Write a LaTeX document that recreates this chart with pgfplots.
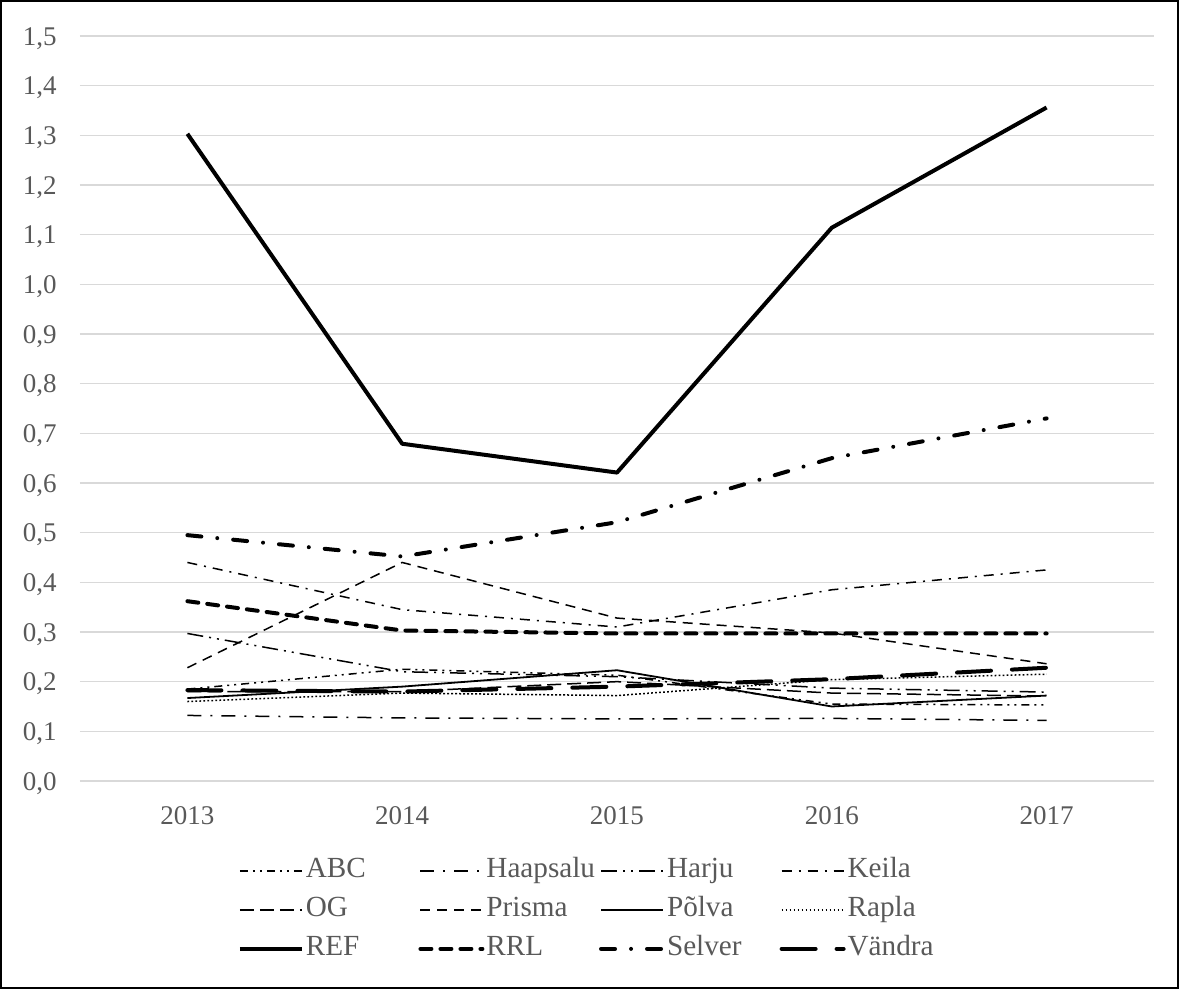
\documentclass[border=0pt]{standalone}
\usepackage{fontspec}
\setmainfont{Liberation Serif}
\usepackage{pgfplots}
\pgfplotsset{compat=1.18}
\definecolor{txtgray}{HTML}{595959}
\definecolor{gridgray}{HTML}{D9D9D9}
\begin{document}
\fontsize{13.5pt}{16pt}\selectfont
\begin{tikzpicture}
\path[use as bounding box] (0,0) rectangle (589.5pt,494.5pt);
\draw[line width=1pt] (0.5pt,0.5pt) rectangle (589pt,494pt);
\begin{axis}[
  at={(40pt,104pt)}, anchor=south west,
  scale only axis, width=537pt, height=372.5pt,
  xmin=-0.5, xmax=4.5, ymin=0, ymax=1.5,
  xtick={0,1,2,3,4}, xticklabels={2013,2014,2015,2016,2017},
  ytick={0,0.1,...,1.5},
  axis line style={draw=none},
  major tick length=0pt,
  ymajorgrids, grid style={gridgray, line width=0.6pt},
  tick label style={font=\fontsize{13.5pt}{16pt}\selectfont, text=txtgray},
  xticklabel style={anchor=north, inner sep=0pt, yshift=-12.5pt},
  yticklabel style={anchor=base east, inner sep=0pt, xshift=-11.5pt, yshift=-4.55pt},
  /pgf/number format/.cd, use comma, fixed, fixed zerofill, precision=1, assume math mode=true,
  /pgfplots/.cd,
  legend columns=4,
  legend cell align=left,
  legend image code/.code={\draw[#1] (0pt,0pt) -- (31pt,0pt);},
  legend style={at={(0.141,-0.0946)}, anchor=north west, draw=none, fill=none,
    font=\fontsize{14.6pt}{17pt}\selectfont, text=txtgray,
    row sep=4.5pt,
    nodes={inner sep=1pt, text height=10pt, text depth=3pt},
    /tikz/every even column/.append style={column sep=0.3pt, text width=55pt, align=left}},
]
% ABC
\addplot[black, line width=0.75pt, dash pattern=on 4pt off 2.5pt on 1pt off 2.5pt on 1pt off 2.5pt]
  coordinates {(0,0.185) (1,0.225) (2,0.213) (3,0.155) (4,0.153)};
\addlegendentry{ABC}
% Haapsalu
\addplot[black, line width=0.75pt, dash pattern=on 7pt off 4.5pt on 1pt off 4.5pt]
  coordinates {(0,0.132) (1,0.127) (2,0.125) (3,0.126) (4,0.122)};
\addlegendentry{Haapsalu}
% Harju
\addplot[black, line width=0.75pt, dash pattern=on 8pt off 3pt on 1pt off 3pt on 1pt off 3pt]
  coordinates {(0,0.297) (1,0.22) (2,0.21) (3,0.187) (4,0.179)};
\addlegendentry{Harju}
% Keila
\addplot[black, line width=0.75pt, dash pattern=on 5pt off 3.5pt on 1pt off 3.5pt]
  coordinates {(0,0.44) (1,0.345) (2,0.31) (3,0.385) (4,0.425)};
\addlegendentry{Keila}
% OG
\addplot[black, line width=0.75pt, dash pattern=on 7pt off 3pt]
  coordinates {(0,0.18) (1,0.18) (2,0.2) (3,0.177) (4,0.171)};
\addlegendentry{OG}
% Prisma
\addplot[black, line width=0.75pt, dash pattern=on 5pt off 3.5pt]
  coordinates {(0,0.228) (1,0.44) (2,0.328) (3,0.298) (4,0.236)};
\addlegendentry{Prisma}
% Polva
\addplot[black, line width=0.9pt]
  coordinates {(0,0.167) (1,0.19) (2,0.223) (3,0.15) (4,0.172)};
\addlegendentry{Põlva}
% Rapla
\addplot[black, line width=0.75pt, dash pattern=on 0.9pt off 1.1pt]
  coordinates {(0,0.16) (1,0.177) (2,0.172) (3,0.204) (4,0.215)};
\addlegendentry{Rapla}
% REF
\addplot[black, line width=2pt, line join=round]
  coordinates {(0,1.303) (1,0.679) (2,0.621) (3,1.114) (4,1.356)};
\addlegendentry{REF}
% RRL
\addplot[black, line width=2pt, line cap=round, dash pattern=on 5.5pt off 4.5pt]
  coordinates {(0,0.362) (1,0.303) (2,0.297) (3,0.297) (4,0.297)};
\addlegendentry{RRL}
% Selver
\addplot[black, line width=2pt, line cap=round, dash pattern=on 7pt off 8pt on 0pt off 8pt]
  coordinates {(0,0.495) (1,0.452) (2,0.521) (3,0.65) (4,0.73)};
\addlegendentry{Selver}
% Vandra
\addplot[black, line width=2pt, line cap=round, dash pattern=on 17pt off 10.5pt]
  coordinates {(0,0.183) (1,0.18) (2,0.19) (3,0.205) (4,0.228)};
\addlegendentry{Vändra}
\end{axis}
\end{tikzpicture}
\end{document}
